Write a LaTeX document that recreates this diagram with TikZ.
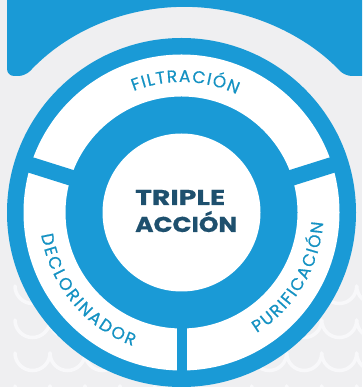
\documentclass[tikz,border=0pt]{standalone}
\usepackage{fontspec}
\newfontfamily\pop[FakeBold=0.6]{Poppins}
\newfontfamily\popt[FakeBold=0.5]{Poppins}
\usetikzlibrary{decorations.text}
\definecolor{bgc}{HTML}{EFEFF1}
\definecolor{blu}{HTML}{1A9AD6}
\definecolor{navy}{HTML}{1E506E}
\definecolor{lab}{HTML}{1592C3}
\definecolor{wave}{HTML}{F8F8FA}
\tikzset{
  wv/.style={draw=wave, line width=3.5pt, line cap=round},
  lbl/.style={decorate, decoration={text along path, text color=lab, text align=fit to path, text={|\pop\fontsize{17}{18}\selectfont|#1}}},
  ttl/.style={anchor=base west, inner sep=0pt, text=navy, font=\popt\bfseries\fontsize{21.5}{26}\selectfont}
}
\begin{document}
\begin{tikzpicture}[x=1pt,y=1pt]
\fill[bgc] (0,0) rectangle (362,387);
\useasboundingbox (0,0) rectangle (362,387);
% top band
\begin{scope}
\clip (0,0) rectangle (362,387);
\fill[blu, rounded corners=7pt] (7,400) -- (7,311) -- (25.4,311) arc[start angle=136.8, end angle=43.2, radius=219] -- (375,311) -- (375,400) -- cycle;
% waves
\foreach \yc in {101,67,34,1} {
  \foreach \xo in {15,50,85,120} {
    \draw[wv] (\xo,\yc) arc[start angle=180,end angle=360,radius=17.5];
  }
  \foreach \xo in {251.7,286.7,321.7,356.7} {
    \draw[wv] (\xo,\yc) arc[start angle=180,end angle=360,radius=17.5];
  }
}
\end{scope}
% main disc
\coordinate (C) at (181.5,174.5);
\fill[blu] (C) circle[radius=174.5];
\fill[white, even odd rule] (C) circle[radius=158] (C) circle[radius=116];
\foreach \a/\w in {17.5/16, 162.5/16, 270/10}
  \draw[blu, line width=\w pt] ([shift={(\a:110)}]C) -- ([shift={(\a:166)}]C);
\fill[white] (C) circle[radius=79];
% labels
\path[lbl={FILTRACIÓN}] ([shift={(111.5:130.5)}]C) arc[start angle=111.5, end angle=65, radius=130.5];
\path[lbl={DECLORINADOR}] ([shift={(189:142)}]C) arc[start angle=189, end angle=250, radius=142];
\path[lbl={PURIFICACIÓN}] ([shift={(302:142)}]C) arc[start angle=302, end angle=356, radius=142];
% title
\node[ttl] (t1) at (135,182) {\resizebox{90pt}{\height}{TRIPLE}};
\node[ttl] (t2) at (135,155) {\resizebox{102pt}{\height}{ACCIÓN}};
\end{tikzpicture}
\end{document}
